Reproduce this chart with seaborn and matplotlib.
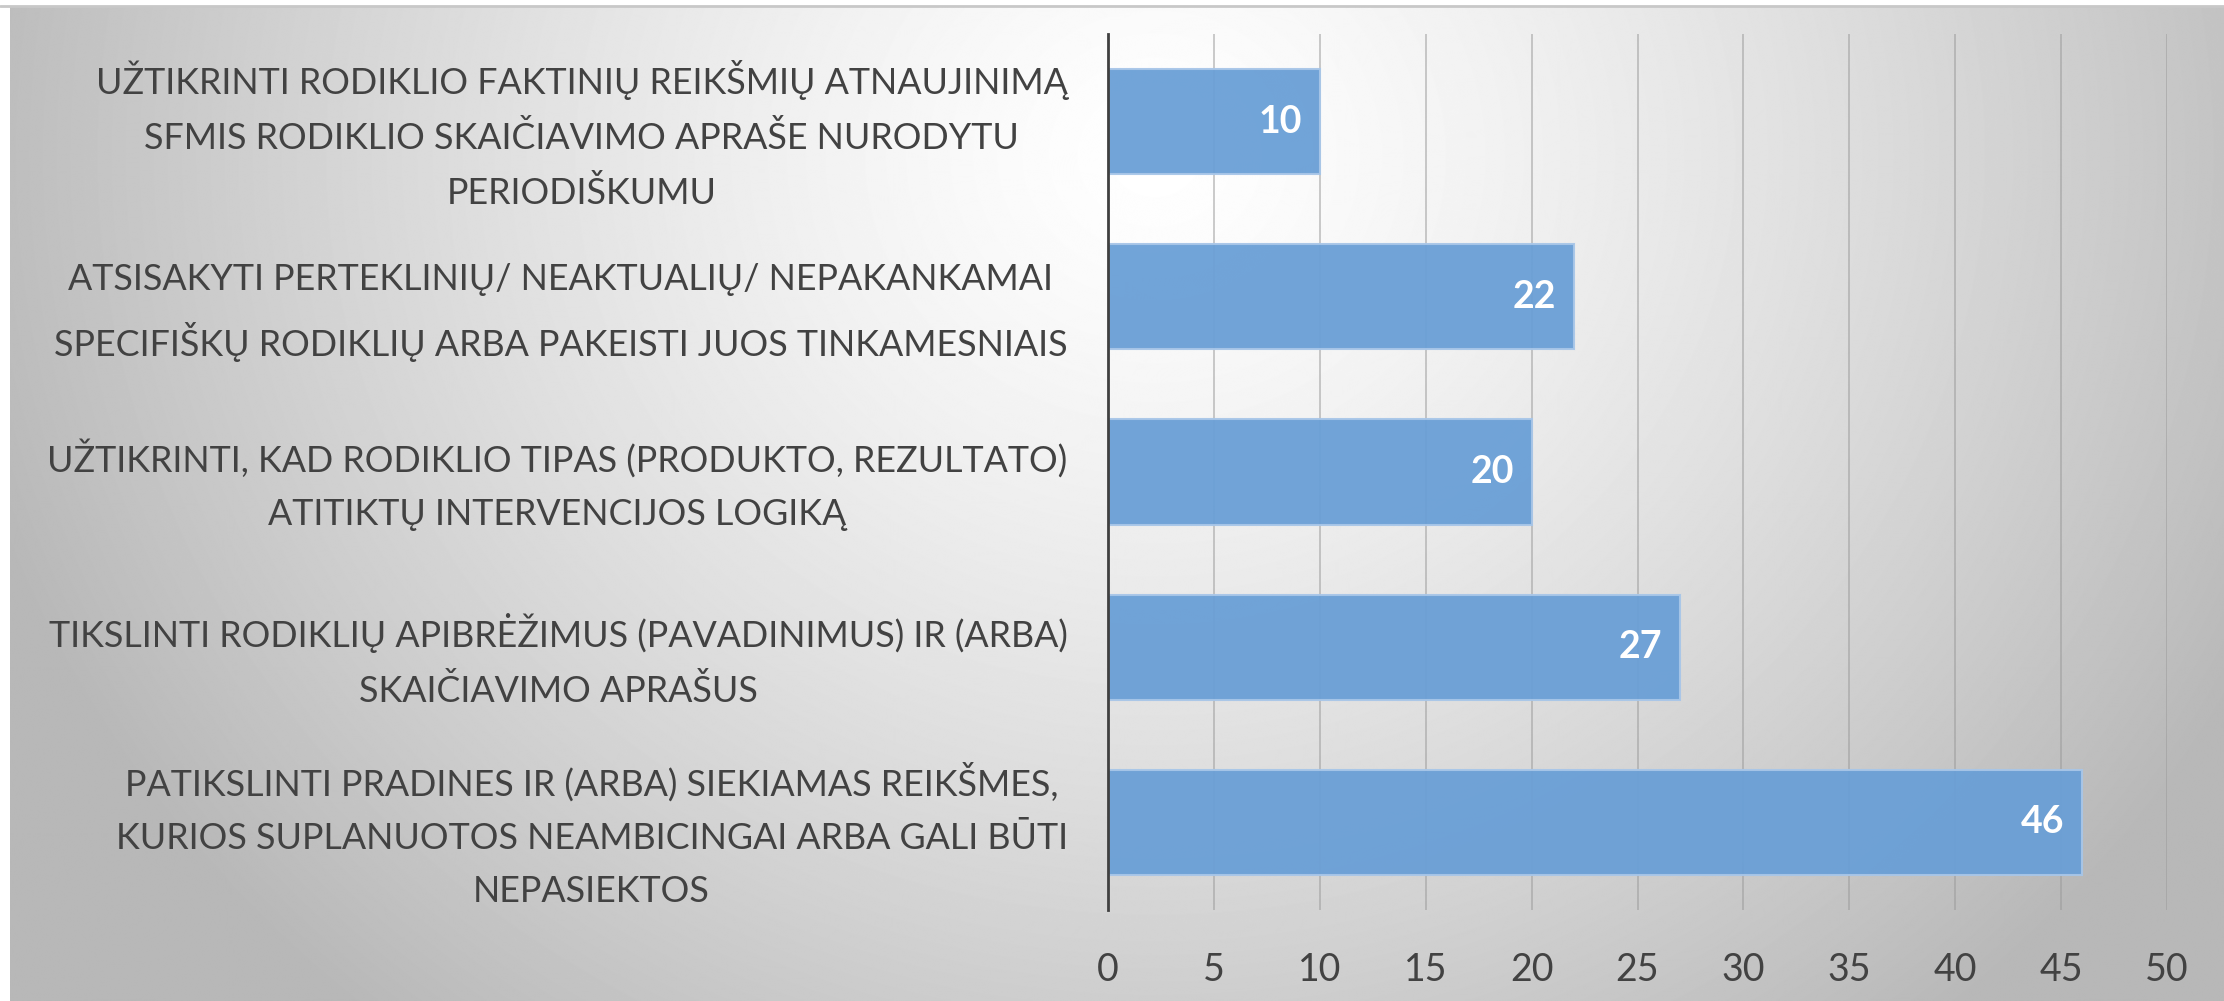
import numpy as np
import pandas as pd
import seaborn as sns
import matplotlib.pyplot as plt

# Data ########################################################################
categories = [
    "UŽTIKRINTI RODIKLIO FAKTINIŲ REIKŠMIŲ ATNAUJINIMĄ\nSFMIS RODIKLIO SKAIČIAVIMO APRAŠE NURODYTU\nPERIODIŠKUMU",
    "ATSISAKYTI PERTEKLINIŲ/ NEAKTUALIŲ/ NEPAKANKAMAI\nSPECIFIŠKŲ RODIKLIŲ ARBA PAKEISTI JUOS TINKAMESNIAIS",
    "UŽTIKRINTI, KAD RODIKLIO TIPAS (PRODUKTO, REZULTATO)\nATITIKTŲ INTERVENCIJOS LOGIKĄ",
    "TIKSLINTI RODIKLIŲ APIBRĖŽIMUS (PAVADINIMUS) IR (ARBA)\nSKAIČIAVIMO APRAŠUS",
    "PATIKSLINTI PRADINES IR (ARBA) SIEKIAMAS REIKŠMES,\nKURIOS SUPLANUOTOS NEAMBICINGAI ARBA GALI BŪTI\nNEPASIEKTOS",
]
values = [10, 22, 20, 27, 46]
xticks = [0, 5, 10, 15, 20, 25, 30, 35, 40, 45, 50]

df = pd.DataFrame({"category": categories, "value": values})

sns.set_theme(style="white")
plt.rcParams["font.family"] = ["Lato", "DejaVu Sans"]

fig = plt.figure(figsize=(22.24, 10.01), dpi=100)

# radial gradient background
bg = fig.add_axes([0, 0, 1, 1], zorder=-10)
yy, xx = np.mgrid[0:1001, 0:2224]
d = np.sqrt(((xx - 1150) / 1200.0) ** 2 + ((yy - 150) / 1100.0) ** 2)
shade = np.clip(1.0 - 0.27 * d ** 1.3, 0.72, 1.0)
bg.imshow(shade, cmap="gray", vmin=0, vmax=1, aspect="auto",
          extent=[10, 2224, 1001, 6])
bg.set_xlim(0, 2224)
bg.set_ylim(1001, 0)
bg.axhline(6, color="#c8c8c8", lw=2)
bg.axis("off")

ax = fig.add_axes([1108 / 2224, 1 - 910 / 1001, (2167 - 1108) / 2224, (910 - 34) / 1001])
ax.patch.set_alpha(0)

sns.barplot(data=df, x="value", y="category", color="#6a9fd6", width=0.6,
            saturation=1, ax=ax, edgecolor="#a8c6e8", linewidth=1.5, zorder=3, alpha=0.95)

ax.set_xlim(0, 50)
ax.set_xticks(xticks)
ax.xaxis.grid(True, color="#9a9a9a", lw=1.2)
for line in ax.get_xgridlines():
    line.set_zorder(4)
    line.set_alpha(0.6)
ax.set_xlabel("")
ax.set_ylabel("")
for s in ["top", "right", "bottom"]:
    ax.spines[s].set_visible(False)
ax.spines["left"].set_color("#404040")
ax.spines["left"].set_linewidth(2)
ax.spines["left"].set_zorder(6)

ax.tick_params(axis="x", length=0, pad=30, labelsize=27, labelcolor="#424242")
ax.tick_params(axis="y", length=0, pad=29, labelsize=25.8, labelcolor="#424242")
for t in ax.get_yticklabels():
    t.set_multialignment("center")
    t.set_linespacing(1.75)

for c in ax.containers:
    ax.bar_label(c, labels=[str(v) for v in values], label_type="edge",
                 padding=-44, color="white", fontsize=27, fontweight="bold", zorder=7)

fig.savefig("out.png", dpi=100)
